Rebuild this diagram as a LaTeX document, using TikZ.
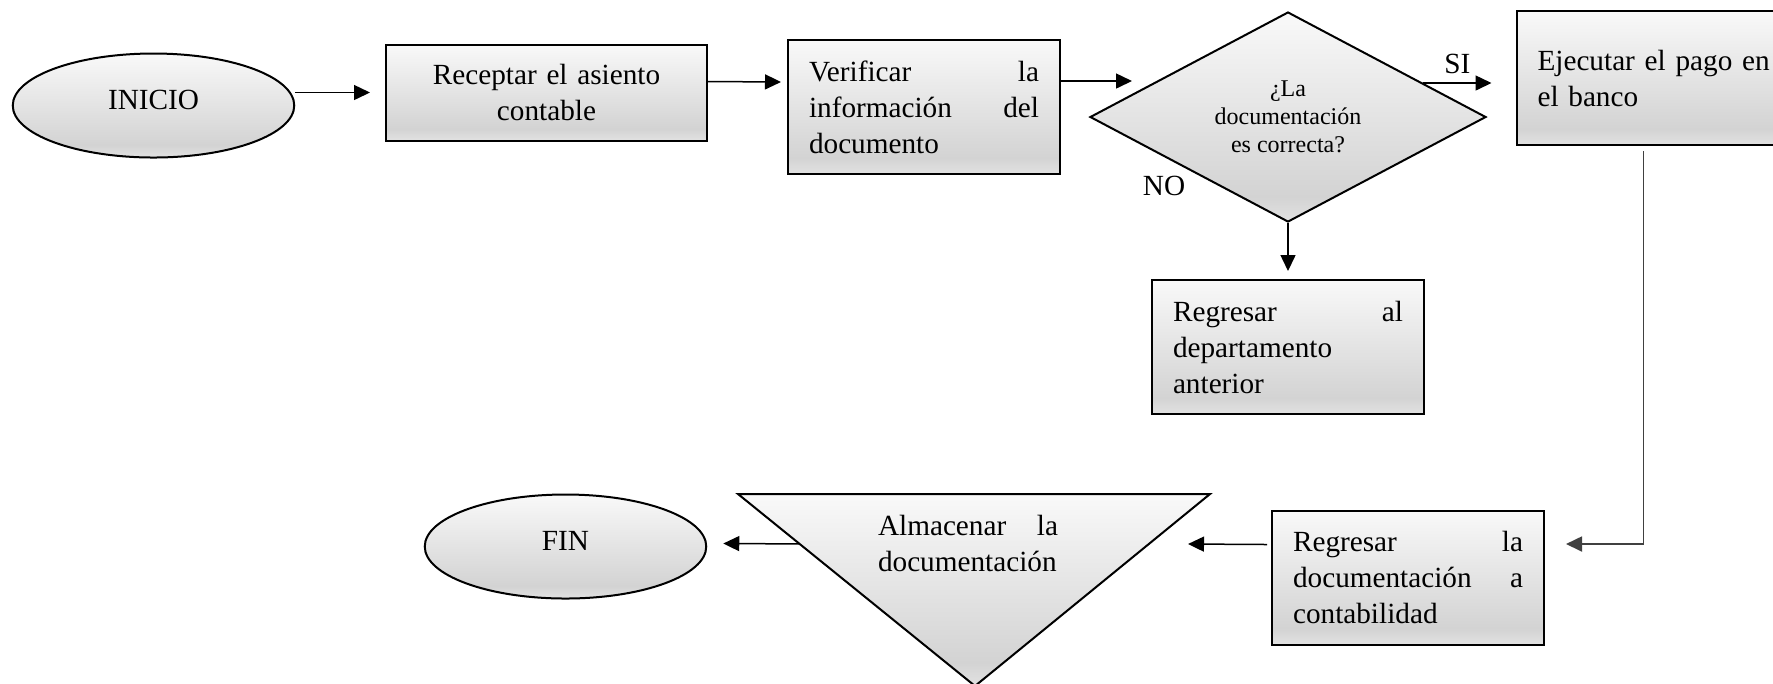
\documentclass[tikz,border=0pt]{standalone}
\usepackage{fontspec}
\setmainfont{Liberation Serif}
\usetikzlibrary{calc, arrows.meta, positioning, shapes.geometric}
\definecolor{shTop}{HTML}{F9F9F9}
\definecolor{shMid}{HTML}{D3D3D3}
\definecolor{shBot}{HTML}{E2E2E2}
\pgfdeclareverticalshading{boxshade}{100bp}{color(0bp)=(shBot); color(25bp)=(shBot); color(31bp)=(shMid); color(75bp)=(shTop); color(100bp)=(shTop)}
\tikzset{
  boxfill/.style={draw, line width=0.8pt, shade, shading=boxshade},
  proc/.style={boxfill, rectangle, text width=92pt, inner xsep=8.4pt, minimum height=53.6pt, align=left},
  term/.style={boxfill, ellipse, minimum width=112.6pt, minimum height=41.6pt, text depth=4.5pt},
  decision/.style={boxfill, diamond, aspect=1.89, minimum width=158.4pt, minimum height=84pt, inner sep=0pt, align=center, font=\fontsize{9.6}{11.3}\selectfont},
  flow/.style={-{Triangle[length=6.4pt,width=6pt]}, line width=0.6pt}
}

\begin{document}
\begin{tikzpicture}[x=0.4pt, y=-0.4pt, font=\fontsize{11.7}{14.4}\selectfont]
  \useasboundingbox (0,0) rectangle (1773,683);
  \node[term] (inicio) at (153.5,105.5) {INICIO};
  \node[proc, align=center, text width=111.6pt, minimum height=38.4pt] (recep) at (546.5,92.5) {Receptar el asiento\\contable};
  \node[proc] (verif) at (924,107) {Verificar\hfill la\\información\hfill del\\documento};
  \node[decision] (dec) at (1288,117) {¿La\\documentación\\es correcta?};
  \node[proc, text width=98pt] (ejec) at (1660,78) {Ejecutar el pago en\\el banco};
  \node[proc, below=22.4pt of dec] (regal) {Regresar\hfill al\\departamento\\anterior};
  \node[proc] (regla) at (1408,577.5) {Regresar\hfill la\\documentación\hfill a\\contabilidad};
  % almacenar (triangulo)
  \coordinate (almL) at (738,494);
  \coordinate (almR) at (1210,494);
  \coordinate (almB) at (975,686);
  \draw[boxfill] (almL) -- (almR) -- (almB) -- cycle;
  \node[text width=72pt, align=left] (alm) at (968,543) {Almacenar\hfill la\\documentación};
  \node[term] (fin) at (565.5,546.5) {FIN};
  \node (no) at ($(dec.south)+(-124,-37)$) {NO};

  \draw[flow, shorten >=6pt] (inicio.east |- recep.west) -- (recep.west);
  \draw[flow] ($(recep.east)+(0,-11)$) -- ($(verif.west)+(-6,-25)$);
  \draw[flow] ($(verif.east)+(0,-26)$) -- ($(dec.west)+(43,-36)$);
  \draw[flow] ($(dec.east)+(-64,-34)$) -- node[above] (si) {SI} ($(ejec.west)+(-24,5)$);
  \draw[flow, shorten >=3.2pt] (dec.south) -- (dec.south |- regal.north);
  \draw[flow, draw=black!75, line width=0.7pt] ($(ejec.south west)+(128,5)$) |- ($(regla.east)+(21,-33.5)$);
  \draw[flow] ($(regla.west)+(-4,-33)$) -- ($(almR)+(-22,50)$);
  \draw[flow] ($(almL)!0.26!(almB)$) -- ($(fin.east)+(16,-3)$);
\end{tikzpicture}
\end{document}
